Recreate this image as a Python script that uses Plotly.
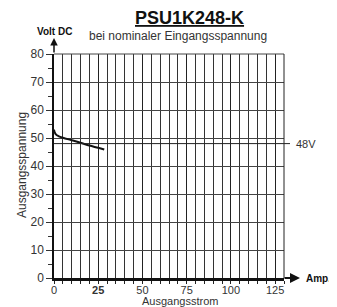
import plotly.graph_objects as go

# Data
current_a = [0, 0.4, 1.2, 2.5, 5, 10, 15, 20, 25, 28.4]
voltage_v = [53, 52.0, 51.2, 50.7, 50.1, 49.2, 48.3, 47.3, 46.5, 45.9]
x_tickvals = [0, 25, 50, 75, 100, 125]
x_ticktext = ["0", "<b>25</b>", "50", "75", "100", "125"]
y_tickvals = [0, 10, 20, 30, 40, 50, 60, 70, 80]
nominal_v = 48
x_max = 130
y_max = 80

OFF = 8  # page body margin
W, H = 337 - OFF, 307 - OFF
# plot area in page pixels: left 54, right 284, top 54, bottom 278
L, T = 54 - OFF, 54 - OFF
R, B = (W + OFF) - 284, (H + OFF) - 278
PW, PH = W - L - R, H - T - B
FONT = "Arial, Liberation Sans, sans-serif"


def px(x):
    return (x - OFF - L) / PW


def py(y):
    return (H - B - (y - OFF)) / PH


def label(text, x, y, size, color="#333", xanchor="center", **kw):
    fig.add_annotation(xref="paper", yref="paper", x=px(x), y=py(y), text=text,
                       showarrow=False, xanchor=xanchor, yanchor="middle",
                       font=dict(size=size, color=color), **kw)


fig = go.Figure()
fig.add_trace(go.Scatter(x=current_a, y=voltage_v, mode="lines",
                         line=dict(color="#111", width=2), line_shape="spline",
                         showlegend=False, hoverinfo="skip"))

fig.update_layout(
    width=W, height=H, margin=dict(l=L, r=R, t=T, b=B, autoexpand=False),
    paper_bgcolor="white", plot_bgcolor="white",
    font=dict(family=FONT, color="#333", size=11),
    xaxis=dict(range=[0, x_max], tickvals=x_tickvals, ticktext=x_ticktext,
               automargin=False,
               showgrid=True, gridcolor="#222", gridwidth=1,
               minor=dict(dtick=5, showgrid=True, gridcolor="#333", gridwidth=1,
                          ticks="outside", ticklen=3, tickcolor="#222"),
               ticks="outside", ticklen=0, tickcolor="#222",
               showline=True, linecolor="#111", linewidth=2.5,
               zeroline=False, tickfont=dict(size=11, color="#333")),
    yaxis=dict(range=[0, y_max], tickvals=y_tickvals, automargin=False,
               showgrid=True, gridcolor="#444", gridwidth=1,
               minor=dict(dtick=5, ticks="outside", ticklen=4, tickcolor="#333", showgrid=False),
               ticks="outside", ticklen=6, tickcolor="#333",
               showline=True, linecolor="#111", linewidth=1.5,
               zeroline=False, tickfont=dict(size=12, color="#333")),
)

# top and right borders
fig.add_shape(type="line", xref="paper", yref="paper", x0=0, x1=1, y0=1, y1=1,
              line=dict(color="#444", width=1))
fig.add_shape(type="line", xref="paper", yref="paper", x0=1, x1=1, y0=0, y1=1,
              line=dict(color="#222", width=1))

# 48V reference line
fig.add_shape(type="line", xref="paper", yref="paper", x0=0, x1=px(290),
              y0=nominal_v / y_max, y1=nominal_v / y_max, line=dict(color="#222", width=1))
fig.add_annotation(xref="paper", yref="paper", x=px(294), y=nominal_v / y_max,
                   text="48V", showarrow=False, xanchor="left", yanchor="middle",
                   font=dict(size=11, color="#333"))

# axis arrows
fig.add_annotation(xref="paper", yref="paper", x=0, y=py(38), ax=0, ay=16,
                   showarrow=True, arrowhead=2, arrowsize=1, arrowwidth=1.5,
                   arrowcolor="#111", text="")
fig.add_annotation(xref="paper", yref="paper", x=px(300), y=0, ax=-17, ay=0,
                   showarrow=True, arrowhead=2, arrowsize=1, arrowwidth=2,
                   arrowcolor="#111", text="")

label("<b>Amp.</b>", 304, 278, 10, "#111", xanchor="left")
label("<b>Volt DC</b>", 35, 32, 10, "#111", xanchor="left")
label("bei nominaler Eingangsspannung", 178, 36, 12)
label("<b><u>PSU1K248-K</u></b>", 189, 18, 18, "#111")
label("Ausgangsstrom", 180, 301, 11)
label("Ausgangsspannung", 22, 165, 12, textangle=-90)

fig.write_html("out.html")
